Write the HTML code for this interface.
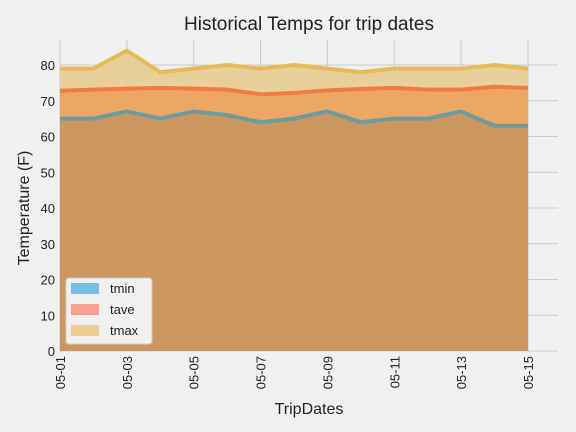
<!DOCTYPE html>
<html><head><meta charset="utf-8"><style>
body{margin:0;background:#f0f0f0;}
svg{display:block;font-family:"Liberation Sans","DejaVu Sans",sans-serif;}
</style></head><body>
<svg id="chart" width="576" height="432">
<rect width="576" height="432" fill="#f0f0f0"/>
<text x="309" y="30" font-size="19" text-anchor="middle" fill="#222">Historical Temps for trip dates</text>
<g id="grid"></g><g id="areas"></g><g id="axes"></g>
<text x="309" y="414" font-size="16" text-anchor="middle" fill="#222">TripDates</text>
<text transform="translate(29,208) rotate(-90)" font-size="16" text-anchor="middle" fill="#222">Temperature (F)</text>
<g>
<rect x="66" y="278" width="86" height="66" rx="3" fill="#f0f0f0" stroke="#ccc"/>
<g><rect x="71" y="283" width="28" height="11" fill="#008fd5" opacity="0.5"/><text x="110" y="293" font-size="13" fill="#222">tmin</text></g>
<g><rect x="71" y="304" width="28" height="11" fill="#fc4f30" opacity="0.5"/><text x="110" y="314" font-size="13" fill="#222">tave</text></g>
<g><rect x="71" y="325" width="28" height="11" fill="#e5ae38" opacity="0.5"/><text x="110" y="335" font-size="13" fill="#222">tmax</text></g>
</g>
</svg>
<script>
const dates=["05-01","05-02","05-03","05-04","05-05","05-06","05-07","05-08","05-09","05-10","05-11","05-12","05-13","05-14","05-15"];
const tmin=[65,65,67,65,67,66,64,65,67,64,65,65,67,63,63];
const tave=[72.8,73.1,73.4,73.6,73.4,73.1,71.8,72.2,72.9,73.3,73.6,73.1,73.1,73.9,73.6];
const tmax=[79,79,84,78,79,80,79,80,79,78,79,79,79,80,79];
const yTicks=[0,10,20,30,40,50,60,70,80];
const NS="http://www.w3.org/2000/svg";
const x0=60,x1=528,yb=351,ppu=3.575;
const X=i=>x0+i*(x1-x0)/(dates.length-1);
const Y=v=>yb-v*ppu;
function mk(t,a,p){const e=document.createElementNS(NS,t);for(const k in a)e.setAttribute(k,a[k]);p.appendChild(e);return e;}
const grid=document.getElementById('grid'),areas=document.getElementById('areas'),axes=document.getElementById('axes');
yTicks.forEach(v=>{
 const l=mk('line',{x1:x0,x2:x1+30,y1:Y(v),y2:Y(v),stroke:'#cbcbcb','stroke-width':1},grid);
 
 
 const t=mk('text',{x:x0-5,y:Y(v)+5,'font-size':13,'text-anchor':'end',fill:'#222'},axes);
 t.textContent=v;
 
 
});
dates.forEach((d,i)=>{
 if(i%2)return;
 const l=mk('line',{x1:X(i),x2:X(i),y1:40,y2:yb,stroke:'#cbcbcb','stroke-width':1},grid);
 
 
 const t=mk('text',{transform:`translate(${X(i)+5},${yb+5}) rotate(-90)`,'font-size':13,'text-anchor':'end',fill:'#222'},axes);
 t.textContent=d;
 
 
});
const series=[[tmax,'#e8cd93','#e6bb5a','tmax'],[tave,'#eba35f','#f27a45','tave'],[tmin,'#c9975f','#6e9aa0','tmin']];
series.forEach(([s,f,c,n])=>{
 const pts=s.map((v,i)=>X(i)+','+Y(v)).join(' ');
 const a=mk('polygon',{points:`${X(0)},${yb} ${pts} ${X(s.length-1)},${yb}`,fill:f,'fill-opacity':0.92},areas);
 
 
});
series.forEach(([s,f,c,n])=>{
 const pts=s.map((v,i)=>X(i)+','+Y(v)).join(' ');
 const l=mk('polyline',{points:pts,fill:'none',stroke:c,'stroke-width':4},areas);
 
 
});
</script>
</body></html>
